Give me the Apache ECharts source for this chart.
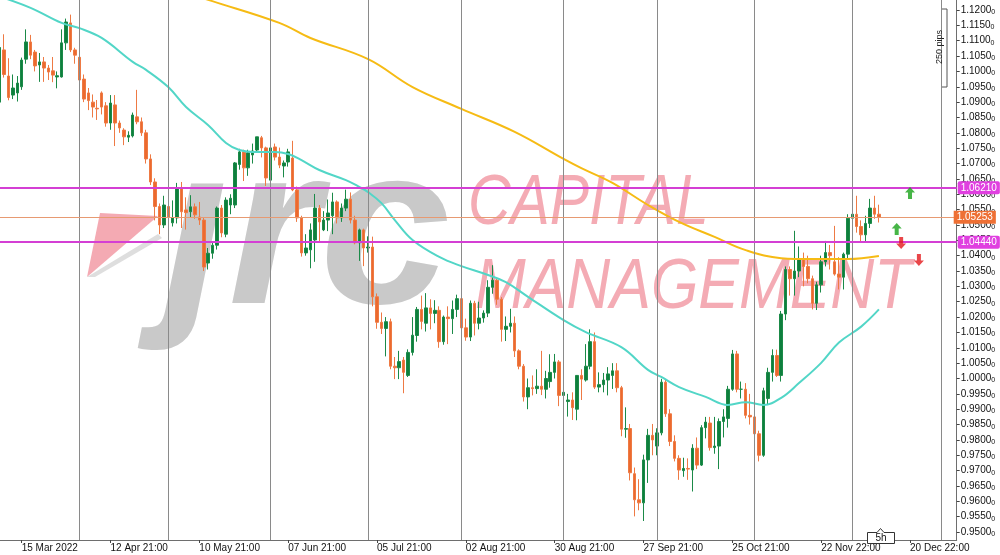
<!DOCTYPE html>
<html><head><meta charset="utf-8">
<script src="https://cdn.jsdelivr.net/npm/echarts@6/dist/echarts.min.js"></script>
<style>html,body{margin:0;padding:0;background:#fff}#c{width:1000px;height:555px}</style>
</head><body><div id="c"></div>
<script>
// ---------- data ----------
const tickIndex = [6,26,46,66,86,106,126,146,166,186,206];
const tickText = ['15 Mar 2022','12 Apr 21:00','10 May 21:00','07 Jun 21:00','05 Jul 21:00','02 Aug 21:00','30 Aug 21:00','27 Sep 21:00','25 Oct 21:00','22 Nov 22:00','20 Dec 22:00'];
const monthSeparators = [19,39,62,84,105,128,149,171,193,213];
const yTicks = [0.9500,0.9550,0.9600,0.9650,0.9700,0.9750,0.9800,0.9850,0.9900,0.9950,1.0000,1.0050,1.0100,1.0150,1.0200,1.0250,1.0300,1.0350,1.0400,1.0450,1.0500,1.0550,1.0600,1.0650,1.0700,1.0750,1.0800,1.0850,1.0900,1.0950,1.1000,1.1050,1.1100,1.1150,1.1200];
// [open, close, low, high] per trading day, from 8 Mar 2022
const ohlc = [
[1.0854,1.0899,1.0840,1.1020],[1.0900,1.1078,1.0890,1.1090],[1.1070,1.0990,1.0980,1.1121],[1.0985,1.0915,1.0906,1.1043],
[1.0923,1.0946,1.0910,1.0990],[1.0930,1.0962,1.0902,1.0985],[1.0950,1.1037,1.0940,1.1045],[1.1040,1.1096,1.1025,1.1137],
[1.1096,1.1053,1.1040,1.1119],[1.1063,1.1018,1.1000,1.1070],[1.1021,1.1031,1.0966,1.1060],[1.1031,1.1011,1.0966,1.1047],
[1.1011,1.0998,1.0972,1.1021],[1.1002,1.0988,1.0965,1.1047],[1.0982,1.0986,1.0945,1.1000],[1.0982,1.1093,1.0980,1.1137],
[1.1093,1.1161,1.1070,1.1172],[1.1158,1.1070,1.1063,1.1185],[1.1070,1.1053,1.1025,1.1077],[1.1046,1.0972,1.0965,1.1053],
[1.0975,1.0910,1.0900,1.0990],[1.0930,1.0905,1.0874,1.0946],[1.0900,1.0884,1.0850,1.0925],[1.0880,1.0878,1.0842,1.0907],
[1.0930,1.0884,1.0860,1.0935],[1.0888,1.0832,1.0820,1.0900],[1.0832,1.0897,1.0810,1.0923],[1.0891,1.0832,1.0757,1.0923],
[1.0832,1.0816,1.0800,1.0840],[1.0809,1.0787,1.0760,1.0815],[1.0786,1.0792,1.0770,1.0805],[1.0790,1.0858,1.0785,1.0866],
[1.0852,1.0836,1.0828,1.0940],[1.0836,1.0800,1.0790,1.0850],[1.0800,1.0715,1.0700,1.0810],[1.0715,1.0640,1.0630,1.0730],
[1.0640,1.0560,1.0515,1.0652],[1.0560,1.0500,1.0470,1.0570],[1.0500,1.0565,1.0490,1.0595],[1.0560,1.0526,1.0490,1.0575],
[1.0507,1.0523,1.0495,1.0580],[1.0523,1.0620,1.0505,1.0637],[1.0620,1.0543,1.0490,1.0640],[1.0549,1.0540,1.0485,1.0590],
[1.0543,1.0559,1.0525,1.0597],[1.0559,1.0533,1.0520,1.0570],[1.0526,1.0516,1.0500,1.0575],[1.0516,1.0363,1.0350,1.0525],
[1.0376,1.0408,1.0355,1.0425],[1.0408,1.0434,1.0390,1.0445],[1.0434,1.0555,1.0420,1.0560],[1.0555,1.0474,1.0460,1.0565],
[1.0470,1.0581,1.0460,1.0590],[1.0565,1.0587,1.0535,1.0600],[1.0565,1.0702,1.0555,1.0705],[1.0697,1.0738,1.0680,1.0748],
[1.0738,1.0686,1.0643,1.0745],[1.0686,1.0735,1.0660,1.0745],[1.0728,1.0741,1.0700,1.0765],[1.0744,1.0787,1.0735,1.0787],
[1.0784,1.0751,1.0720,1.0790],[1.0751,1.0653,1.0627,1.0755],[1.0646,1.0751,1.0640,1.0765],[1.0754,1.0721,1.0710,1.0765],
[1.0721,1.0695,1.0685,1.0752],[1.0692,1.0702,1.0655,1.0710],[1.0705,1.0738,1.0690,1.0748],[1.0718,1.0614,1.0610,1.0774],
[1.0614,1.0523,1.0510,1.0625],[1.0523,1.0409,1.0397,1.0530],[1.0409,1.0425,1.0400,1.0470],[1.0419,1.0484,1.0359,1.0505],
[1.0451,1.0555,1.0380,1.0601],[1.0555,1.0510,1.0445,1.0565],[1.0484,1.0516,1.0480,1.0545],[1.0516,1.0539,1.0480,1.0583],
[1.0530,1.0575,1.0470,1.0605],[1.0575,1.0523,1.0505,1.0580],[1.0523,1.0555,1.0510,1.0570],[1.0555,1.0584,1.0545,1.0615],
[1.0584,1.0516,1.0505,1.0606],[1.0516,1.0442,1.0437,1.0530],[1.0442,1.0484,1.0383,1.0488],[1.0484,1.0425,1.0366,1.0488],
[1.0425,1.0428,1.0410,1.0463],[1.0428,1.0266,1.0235,1.0462],[1.0266,1.0183,1.0162,1.0277],[1.0183,1.0163,1.0145,1.0215],
[1.0163,1.0185,1.0072,1.0200],[1.0185,1.0040,1.0030,1.0195],[1.0040,1.0035,0.9998,1.0070],[1.0035,1.0055,0.9998,1.0090],
[1.0060,1.0020,0.9952,1.0070],[1.0010,1.0085,1.0005,1.0095],[1.0085,1.0141,1.0075,1.0200],[1.0140,1.0225,1.0120,1.0233],
[1.0225,1.0186,1.0160,1.0270],[1.0180,1.0230,1.0153,1.0278],[1.0230,1.0212,1.0160,1.0258],[1.0212,1.0222,1.0180,1.0255],
[1.0222,1.0120,1.0100,1.0235],[1.0120,1.0200,1.0110,1.0205],[1.0200,1.0195,1.0112,1.0235],[1.0195,1.0225,1.0145,1.0254],
[1.0225,1.0260,1.0200,1.0273],[1.0260,1.0165,1.0160,1.0294],[1.0165,1.0135,1.0123,1.0195],[1.0135,1.0245,1.0122,1.0254],
[1.0245,1.0180,1.0140,1.0253],[1.0180,1.0197,1.0160,1.0250],[1.0197,1.0213,1.0182,1.0222],[1.0213,1.0297,1.0200,1.0320],
[1.0297,1.0320,1.0276,1.0369],[1.0320,1.0258,1.0240,1.0330],[1.0258,1.0160,1.0120,1.0265],[1.0160,1.0170,1.0122,1.0202],
[1.0170,1.0180,1.0150,1.0227],[1.0180,1.0090,1.0070,1.0202],[1.0090,1.0040,1.0030,1.0095],[1.0040,0.9940,0.9925,1.0047],
[0.9940,0.9970,0.9900,1.0000],[0.9970,0.9967,0.9945,1.0010],[0.9967,0.9975,0.9950,1.0030],[0.9975,0.9965,0.9946,1.0090],
[0.9965,1.0000,0.9935,1.0025],[0.9990,1.0020,0.9970,1.0079],[1.0020,1.0054,1.0000,1.0080],[1.0054,0.9945,0.9910,1.0060],
[0.9945,0.9955,0.9935,1.0033],[0.9925,0.9930,0.9876,0.9950],[0.9930,0.9905,0.9865,0.9955],[0.9900,1.0010,0.9864,1.0011],
[1.0010,0.9998,0.9930,1.0030],[0.9995,1.0040,0.9990,1.0112],[1.0040,1.0120,1.0030,1.0160],[1.0120,0.9972,0.9966,1.0150],
[0.9972,0.9980,0.9955,1.0020],[0.9980,0.9995,0.9955,1.0018],[0.9995,1.0015,0.9945,1.0037],[1.0010,1.0025,0.9966,1.0050],
[1.0025,0.9970,0.9955,1.0050],[0.9970,0.9835,0.9812,0.9976],[0.9835,0.9837,0.9807,0.9906],[0.9837,0.9693,0.9668,0.9852],
[0.9690,0.9605,0.9551,0.9710],[0.9605,0.9595,0.9571,0.9672],[0.9595,0.9735,0.9536,0.9752],[0.9735,0.9815,0.9660,0.9836],
[0.9815,0.9800,0.9750,0.9852],[0.9780,0.9823,0.9750,0.9838],[0.9823,0.9988,0.9815,0.9999],[0.9988,0.9885,0.9875,0.9998],
[0.9885,0.9795,0.9780,0.9900],[0.9795,0.9740,0.9730,0.9815],[0.9740,0.9702,0.9670,0.9750],[0.9700,0.9707,0.9680,0.9742],
[0.9707,0.9705,0.9670,0.9740],[0.9702,0.9773,0.9632,0.9786],[0.9773,0.9718,0.9705,0.9808],[0.9718,0.9840,0.9715,0.9848],
[0.9840,0.9858,0.9805,0.9875],[0.9855,0.9775,0.9765,0.9875],[0.9775,0.9780,0.9755,0.9875],[0.9780,0.9860,0.9705,0.9870],
[0.9860,0.9875,0.9808,0.9900],[0.9870,0.9965,0.9840,0.9976],[0.9965,1.0080,0.9960,1.0093],[1.0080,0.9965,0.9955,1.0090],
[0.9965,0.9965,0.9935,0.9990],[0.9965,0.9880,0.9870,0.9985],[0.9880,0.9875,0.9850,0.9950],[0.9875,0.9820,0.9810,0.9925],
[0.9820,0.9750,0.9730,0.9830],[0.9750,0.9960,0.9745,0.9970],[0.9935,1.0020,0.9915,1.0035],[1.0020,1.0075,0.9990,1.0095],
[1.0075,1.0010,1.0005,1.0094],[1.0010,1.0210,0.9990,1.0220],[1.0210,1.0355,1.0190,1.0365],[1.0355,1.0325,1.0270,1.0365],
[1.0325,1.0350,1.0270,1.0481],[1.0350,1.0390,1.0330,1.0430],[1.0390,1.0365,1.0300,1.0410],[1.0365,1.0325,1.0310,1.0400],
[1.0325,1.0245,1.0225,1.0335],[1.0245,1.0305,1.0223,1.0315],[1.0305,1.0380,1.0280,1.0400],[1.0380,1.0410,1.0365,1.0448],
[1.0410,1.0400,1.0355,1.0435],[1.0380,1.0340,1.0335,1.0497],[1.0340,1.0330,1.0290,1.0395],[1.0330,1.0405,1.0290,1.0410],
[1.0405,1.0522,1.0390,1.0535],[1.0522,1.0535,1.0430,1.0545],[1.0535,1.0495,1.0475,1.0595],[1.0495,1.0468,1.0445,1.0515],
[1.0468,1.0505,1.0445,1.0530],[1.0505,1.0555,1.0490,1.0585],[1.0555,1.0535,1.0520,1.0595],[1.0535,1.0525,1.0508,1.0566]
];
const maFast = [[0,1.1249],[8,1.1207],[15,1.1158],[19,1.1141],[24,1.1109],[31,1.1031],[34,1.1005],[39,1.0949],[43,1.0884],[48,1.0825],[52,1.0767],[55,1.0744],[58,1.0738],[63,1.0738],[66,1.0731],[69,1.0711],[73,1.0679],[79,1.0646],[82,1.0624],[84,1.0607],[87,1.0571],[90,1.0516],[94,1.0451],[100,1.0396],[105,1.0366],[111,1.0337],[115,1.0314],[120,1.0266],[128,1.0190],[133,1.0151],[141,1.0102],[147,1.0028],[150,1.0005],[154,0.9972],[160,0.9940],[165,0.9914],[169,0.9923],[173,0.9914],[177,0.9937],[181,0.9985],[186,1.0051],[190,1.0117],[195,1.0169],[199,1.0225]];
const maSlow = [[41,1.1267],[48,1.1233],[64,1.1158],[71,1.1109],[84,1.1040],[94,1.0949],[105,1.0878],[117,1.0803],[128,1.0715],[132,1.0685],[139,1.0637],[147,1.0565],[154,1.0510],[162,1.0461],[169,1.0418],[177,1.0392],[184,1.0389],[192,1.0389],[199,1.0399]];
const levelHigh = 1.06210, levelBid = 1.05253, levelLow = 1.04440;
const arrowsUp = [[206,1.0604],[203,1.0487]];
const arrowsDown = [[204,1.0441],[208,1.0386]];
const watermarkWords = ['jrc','CAPITAL','MANAGEMENT'];
const pipsLabel = '250 pips', timerLabel = '5h';

// ---------- build ----------
const FONT = 'Liberation Sans';
const candles = ohlc.map((d,i)=>[i, d[0], d[1], d[2], d[3]]);
const tickMap = {}; tickIndex.forEach((k,i)=>{ tickMap[k] = tickText[i]; });
const chart = echarts.init(document.getElementById('c'), null, {renderer:'canvas'});
const upArrow = 'path://M5,0 L10,5.5 L7,5.5 L7,12 L3,12 L3,5.5 L0,5.5 Z';
const downArrow = 'path://M3,0 L7,0 L7,6.5 L10,6.5 L5,12 L0,6.5 L3,6.5 Z';
chart.setOption({
  animation:false,
  backgroundColor:'#ffffff',
  grid:{left:0, top:0, width:956.7, height:540, containLabel:false},
  xAxis:{type:'value', min:1.115, max:216.51,
    axisLine:{show:true, onZero:false, lineStyle:{color:'#6e6e6e', width:1}},
    axisTick:{show:true, customValues:tickIndex, length:3, lineStyle:{color:'#444'}},
    axisLabel:{show:true, customValues:tickIndex, formatter:(v)=>tickMap[Math.round(v)]||'', align:'left', margin:3, color:'#111', fontFamily:FONT, fontSize:10, hideOverlap:false},
    splitLine:{show:false}},
  yAxis:{type:'value', position:'right', min:0.94741, max:1.12326,
    axisLine:{show:true, lineStyle:{color:'#6e6e6e', width:1}},
    axisTick:{show:true, customValues:yTicks, length:3, lineStyle:{color:'#444'}},
    axisLabel:{show:true, customValues:yTicks, margin:4, color:'#111', fontFamily:FONT, fontSize:10,
      formatter:(v)=>v.toFixed(4)+'{s|0}', rich:{s:{fontSize:7, fontFamily:FONT, color:'#111', padding:[4,0,0,0]}}},
    splitLine:{show:false}},
  graphic:[
    {type:'text', z:0, x:163, y:241, scaleX:1.04, style:{text:watermarkWords[0], font:'italic bold 226px "Liberation Sans"', fill:'#c9c9c9', verticalAlign:'middle', align:'left'}},
    {type:'rect', z:0, shape:{x:182,y:95,width:76,height:82}, style:{fill:'#ffffff'}},
    {type:'polygon', z:0, shape:{points:[[100,213],[158,216],[87,277]]}, style:{fill:'#f4aab3'}},
    {type:'polygon', z:0, shape:{points:[[87,277],[158,234],[162,238],[95,277]]}, style:{fill:'#dedede'}},
    {type:'text', z:0, x:468, y:205, scaleX:0.84, style:{text:watermarkWords[1], font:'italic 70px "Liberation Sans"', fill:'#f4abb4', verticalAlign:'middle', align:'left'}},
    {type:'text', z:0, x:475, y:289, scaleX:0.87, style:{text:watermarkWords[2], font:'italic 70px "Liberation Sans"', fill:'#f4abb4', verticalAlign:'middle', align:'left'}},
    {type:'polyline', z:10, shape:{points:[[942,9],[947,9],[947,87],[942,87]]}, style:{stroke:'#555', lineWidth:1, fill:null}},
    {type:'text', z:10, x:940, y:47, rotation:Math.PI/2, style:{text:pipsLabel, font:'9px "Liberation Sans"', fill:'#222', align:'center', verticalAlign:'middle'}},
    {type:'polygon', z:10, shape:{points:[[867.5,532.5],[877,532.5],[880.5,528.5],[884,532.5],[894.5,532.5],[894.5,543.5],[867.5,543.5]]}, style:{fill:'#fff', stroke:'#333', lineWidth:1}},
    {type:'text', z:11, x:881, y:538.5, style:{text:timerLabel, font:'10px "Liberation Sans"', fill:'#111', align:'center', verticalAlign:'middle'}}
  ],
  series:[
    {type:'line', name:'sep', data:[], silent:true, z:1,
      markLine:{silent:true, precision:6, symbol:['none','none'], label:{show:false}, lineStyle:{color:'#8a8a8a', width:1, type:'solid'},
        data: monthSeparators.map(i=>({xAxis:i}))}},
    {type:'candlestick', name:'EURUSD', data:candles, encode:{x:0, y:[1,2,3,4]}, barWidth:3, z:3, clip:true,
      itemStyle:{color:'#0e7f3d', color0:'#ec6a2e', borderColor:'#1b8a48', borderColor0:'#ee7a44', borderWidth:1}},
    {type:'line', name:'MA fast', data:maFast, smooth:0.4, showSymbol:false, z:4, lineStyle:{color:'#52d6c7', width:2}, clip:true},
    {type:'line', name:'MA slow', data:maSlow, smooth:0.4, showSymbol:false, z:4, lineStyle:{color:'#f6bb14', width:2}, clip:true},
    {type:'line', name:'levels', data:[], silent:true, z:5,
      markLine:{silent:true, precision:6, symbol:['none','none'],
        label:{show:true, position:'end', distance:1, color:'#fff', fontFamily:FONT, fontSize:10, padding:[2,3,1,3]},
        data:[
          {yAxis:levelHigh, lineStyle:{color:'#d43fd4', width:2, type:'solid'}, label:{formatter:levelHigh.toFixed(5), backgroundColor:'#e040e0', borderRadius:2}},
          {yAxis:levelBid, lineStyle:{color:'#e79a72', width:1, type:'solid'}, label:{formatter:levelBid.toFixed(5), backgroundColor:'#ee7034', offset:[-4,0]}},
          {yAxis:levelLow, lineStyle:{color:'#d43fd4', width:2, type:'solid'}, label:{formatter:levelLow.toFixed(5), backgroundColor:'#e040e0', borderRadius:2}}
        ]}},
    {type:'scatter', name:'buy', data:arrowsUp, symbol:upArrow, symbolSize:[10,12], z:6, itemStyle:{color:'#19a319'}},
    {type:'scatter', name:'sell', data:arrowsDown, symbol:downArrow, symbolSize:[10,12], z:6, itemStyle:{color:'#e3181b'}}
  ]
});
</script></body></html>
